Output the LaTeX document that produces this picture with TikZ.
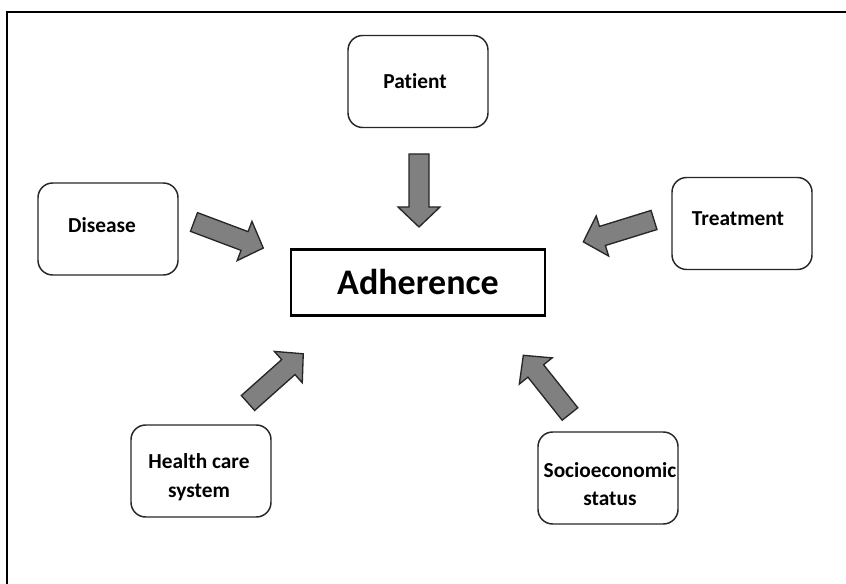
\documentclass[tikz,border=0pt]{standalone}
\usepackage{fontspec}
\setmainfont{Carlito}[Ligatures=NoCommon]
\newcommand\blockarrow[4]{%
  \coordinate (#1) at (#2);
  \draw[blk, shift={(#1)}, rotate=#3] (0,-10) -- (#4-20,-10) -- (#4-20,-21) -- (#4,0) -- (#4-20,21) -- (#4-20,10) -- (0,10) -- cycle;}
\begin{document}
\begin{tikzpicture}[x=0.75pt,y=0.75pt,
  box/.style={draw=black!85, line width=1.1pt, rounded corners=11pt, minimum width=105pt, minimum height=69pt, inner sep=0pt},
  lbl/.style={align=center, inner sep=0pt, font=\bfseries\fontsize{16}{21.5}\selectfont},
  core/.style={draw, line width=2.2pt, minimum width=190.5pt, minimum height=50pt, inner sep=0pt, font=\bfseries\fontsize{27}{32}\selectfont},
  blk/.style={draw=black!85, fill=black!50, line width=1pt, line join=miter}]
\useasboundingbox (0,0) rectangle (846,-584);
\draw[line width=1.5pt] (7,-584) -- (7,-12) -- (846,-12);

\node[core] (adh) at (418,-282.5) {Adherence};
\node[box] (patient) at (418,-81.5) {};
\node[box] (disease) at (108,-229) {};
\node[box] (treat) at (742,-223.5) {};
\node[box] (health) at (201,-471) {};
\node[box] (socio) at (608,-478) {};

\node[lbl] (patientT) at (415,-81) {Patient};
\node[lbl] (diseaseT) at (102,-225) {Disease};
\node[lbl] (treatT) at (738,-219) {Treatment};
\node[lbl] (healthT) at (199,-477) {Health care\\system};
\node[lbl] (socioT) at (610,-484) {Socioeconomic\\status};

\blockarrow{aP}{419,-154}{-90}{73}
\blockarrow{aD}{194,-222}{-20.6}{74}
\blockarrow{aT}{654,-220}{197.2}{74}
\blockarrow{aH}{248,-403}{41.7}{74}
\blockarrow{aS}{570,-414}{128.5}{75}
\end{tikzpicture}
\end{document}
